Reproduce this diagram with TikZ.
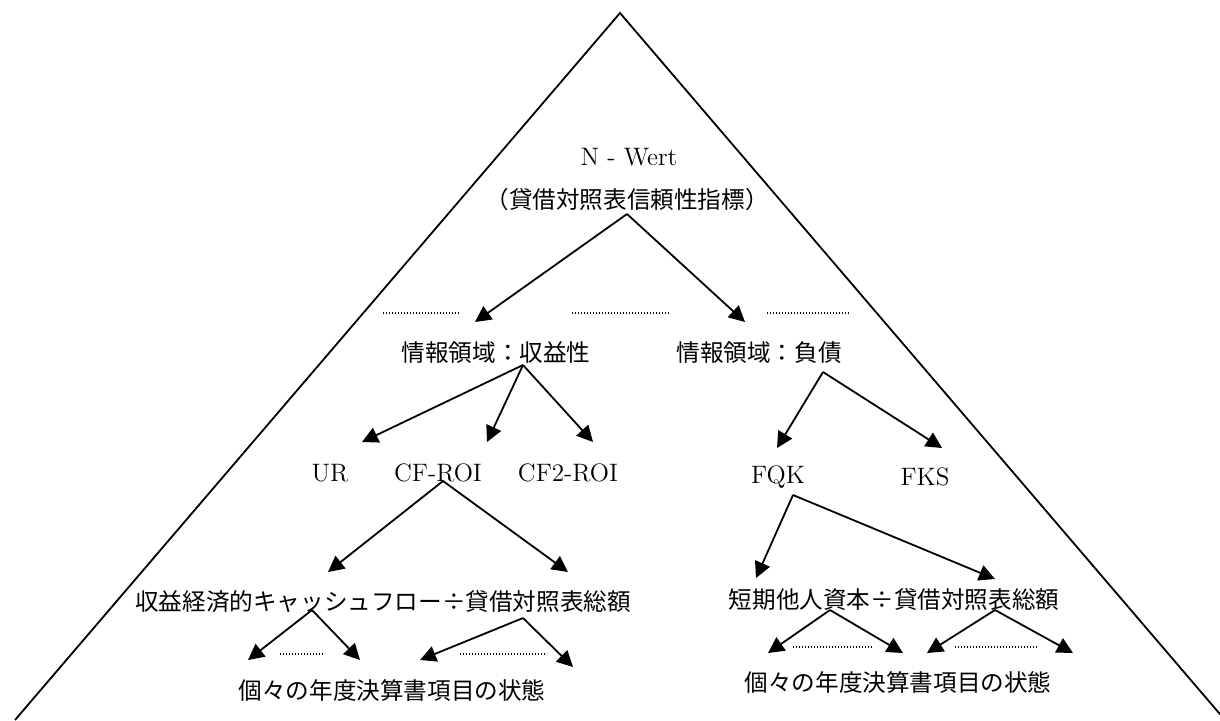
\documentclass[tikz,border=0pt]{standalone}
\usepackage{fontspec}
\newfontfamily\jp{Noto Sans CJK JP}
\usetikzlibrary{arrows.meta}
\begin{document}
\begin{tikzpicture}[x=0.5pt,y=-0.5pt,
  jtext/.style={font=\jp\fontsize{11.8}{14}\selectfont, inner sep=0pt, anchor=center},
  ltext/.style={font=\fontsize{12.6}{14}\selectfont, inner sep=0pt, anchor=center},
  arr/.style={line width=0.9pt, -{Triangle[length=8pt,width=8pt]}},
  dots/.style={line width=0.7pt, dash pattern=on 0.6pt off 0.9pt},
  edge/.style={line width=0.9pt}]
\useasboundingbox (0,0) rectangle (1220,720);
\clip (0,0) rectangle (1220,720);
% triangle
\coordinate (apex) at (620,13);
\coordinate (bl) at (15,720);
\coordinate (br) at (1225,720);
\draw[edge] (bl) -- (apex) -- (br);
% texts
\node[ltext] (nw) at (629,157) {N - Wert};
\node[jtext] (bsi) at (627,200) {（貸借対照表信頼性指標）};
\node[jtext] (ir) at (496,353) {情報領域：収益性};
\node[jtext] (id) at (759,353) {情報領域：負債};
\node[ltext] (ur) at (330,473) {UR};
\node[ltext] (cf) at (438,473) {CF-ROI};
\node[ltext] (cf2) at (568,473) {CF2-ROI};
\node[ltext] (fqk) at (778,477) {FQK};
\node[ltext] (fks) at (925,477) {FKS};
\node[jtext] (ecf) at (383,602) {収益経済的キャッシュフロー÷貸借対照表総額};
\node[jtext] (kfk) at (894,600) {短期他人資本÷貸借対照表総額};
\node[jtext] (st1) at (392,690) {個々の年度決算書項目の状態};
\node[jtext] (st2) at (898,682) {個々の年度決算書項目の状態};
% top arrows
\coordinate (o1) at (627,214);
\coordinate (t1a) at (475,322);
\coordinate (t1b) at (745,322);
\draw[arr] (o1) -- (t1a);
\draw[arr] (o1) -- (t1b);
% dotted top
\coordinate (d1a) at (383,313); \coordinate (d1b) at (460,313);
\coordinate (d2a) at (572,313); \coordinate (d2b) at (670,313);
\coordinate (d3a) at (767,313); \coordinate (d3b) at (849,313);
\draw[dots] (d1a) -- (d1b);
\draw[dots] (d2a) -- (d2b);
\draw[dots] (d3a) -- (d3b);
% profitability arrows
\coordinate (o2) at (523,365);
\coordinate (t2a) at (362,442);
\coordinate (t2b) at (487,442);
\coordinate (t2c) at (593,442);
\draw[arr] (o2) -- (t2a);
\draw[arr] (o2) -- (t2b);
\draw[arr] (o2) -- (t2c);
% debt arrows
\coordinate (o3) at (823,372);
\coordinate (t3a) at (777,448);
\coordinate (t3b) at (942,448);
\draw[arr] (o3) -- (t3a);
\draw[arr] (o3) -- (t3b);
% CF-ROI arrows
\coordinate (o4) at (443,481);
\coordinate (t4a) at (328,572);
\coordinate (t4b) at (568,572);
\draw[arr] (o4) -- (t4a);
\draw[arr] (o4) -- (t4b);
% FQK arrows
\coordinate (o5) at (793,495);
\coordinate (t5a) at (756,578);
\coordinate (t5b) at (995,579);
\draw[arr] (o5) -- (t5a);
\draw[arr] (o5) -- (t5b);
% bottom left arrows
\coordinate (o6) at (312,610);
\coordinate (t6a) at (248,660);
\coordinate (t6b) at (360,660);
\draw[arr] (o6) -- (t6a);
\draw[arr] (o6) -- (t6b);
\coordinate (o7) at (523,618);
\coordinate (t7a) at (420,660);
\coordinate (t7b) at (573,667);
\draw[arr] (o7) -- (t7a);
\draw[arr] (o7) -- (t7b);
\coordinate (d4a) at (280,654); \coordinate (d4b) at (325,654);
\coordinate (d5a) at (460,654); \coordinate (d5b) at (547,654);
\draw[dots] (d4a) -- (d4b);
\draw[dots] (d5a) -- (d5b);
% bottom right arrows
\coordinate (o8) at (830,610);
\coordinate (t8a) at (768,653);
\coordinate (t8b) at (903,653);
\draw[arr] (o8) -- (t8a);
\draw[arr] (o8) -- (t8b);
\coordinate (o9) at (995,610);
\coordinate (t9a) at (927,653);
\coordinate (t9b) at (1073,653);
\draw[arr] (o9) -- (t9a);
\draw[arr] (o9) -- (t9b);
\coordinate (d6a) at (793,647); \coordinate (d6b) at (872,647);
\coordinate (d7a) at (955,647); \coordinate (d7b) at (1038,647);
\draw[dots] (d6a) -- (d6b);
\draw[dots] (d7a) -- (d7b);
\end{tikzpicture}
\end{document}
